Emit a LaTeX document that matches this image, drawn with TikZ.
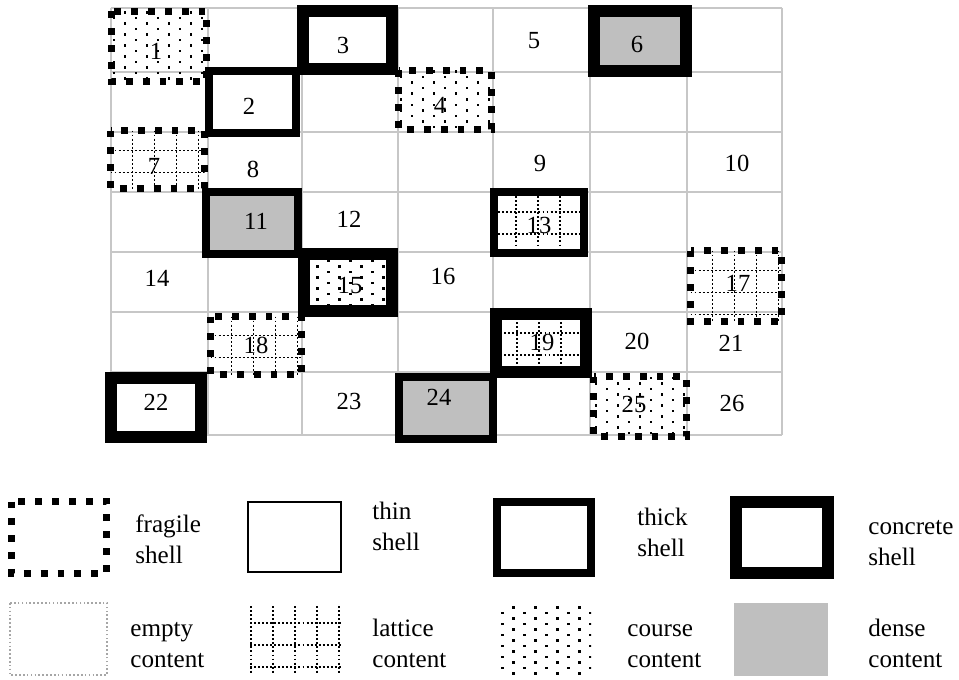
\documentclass[tikz,border=0pt]{standalone}
\usepackage{fontspec}
\setmainfont{Liberation Serif}

% staggered dots for course content: x1 y1 x2 y2
\newcommand{\coursedots}[4]{%
  \begin{scope}
    \clip (#1,#2) rectangle (#3,#4);
    \foreach \ci in {0,...,9}{
      \foreach \cj in {0,...,7}{
        \fill ({#1+1+11*\ci},{#2+5.5*(1-mod(\ci,2))+11*\cj}) rectangle ++(2.5,2.5);
      }
    }
  \end{scope}}

% dotted lattice for lattice content: x1 y1 x2 y2 xoff yoff
\newcommand{\latticegrid}[6]{%
  \begin{scope}
    \clip (#1,#2) rectangle (#3,#4);
    \foreach \lk in {0,...,4}{
      \draw[latticeline] ({#1+#5+22*\lk},#2) -- ({#1+#5+22*\lk},#4);
      \draw[latticeline] (#1,{#2+#6+22*\lk}) -- (#3,{#2+#6+22*\lk});
    }
  \end{scope}}

\begin{document}
\begin{tikzpicture}[
    x=0.02cm, y=-0.02cm,
    gridline/.style={draw=black!22, line width=0.8pt},
    fragile/.style={draw, line width=3.9pt, dash pattern=on 3.9pt off 5.7pt},
    thinshell/.style={draw, line width=1.2pt},
    thickshell/.style={draw, line width=4.5pt},
    concrete/.style={draw, line width=6.8pt},
    dense/.style={fill=black!25},
    latticeline/.style={line width=1.1pt, dash pattern=on 1.1pt off 1.2pt},
    emptyline/.style={draw=black!35, line width=0.9pt, dash pattern=on 0.9pt off 1.3pt},
    num/.style={inner sep=0pt, font=\fontsize{14}{16}\selectfont},
    legendtext/.style={anchor=base west, align=left, inner sep=0pt, font=\fontsize{14.3}{17.6}\selectfont}
]
\useasboundingbox (0,0) rectangle (959,679);

% table grid
\foreach \gx in {111,208,302,398,493,590,687,782}
  \draw[gridline] (\gx,8) -- (\gx,435);
\foreach \gy in {8,72,132,192,252,312,372,435}
  \draw[gridline] (111,\gy) -- (782,\gy);

% contents
\coursedots{111.5}{11.5}{206.5}{81.5}
\coursedots{398.5}{70.5}{491.5}{129.5}
\coursedots{304}{254}{392}{311}
\coursedots{593.5}{376.5}{686.5}{436.5}
\latticegrid{110.5}{130.5}{204.5}{188.5}{22}{20}
\latticegrid{494}{192}{584}{253}{22}{20}
\latticegrid{690.5}{250.5}{781.5}{321.5}{22}{20}
\latticegrid{210.5}{316.5}{301.5}{374.5}{21}{19}
\latticegrid{496}{314}{586}{372}{21}{19}

% shells
\draw[concrete] (303,11) rectangle (392,69);
\draw[concrete, dense] (594,11) rectangle (686,71);
\draw[concrete] (304,254) rectangle (392,311);
\draw[concrete] (496,314) rectangle (586,372);
\draw[concrete] (111,378) rectangle (201,437);
\draw[thickshell] (209,71) rectangle (296,133);
\draw[thickshell, dense] (206,192) rectangle (298,254);
\draw[thickshell] (494,192) rectangle (584,253);
\draw[thickshell, dense] (399,377) rectangle (493,439);
\draw[fragile] (111.5,11.5) rectangle (206.5,81.5);
\draw[fragile] (110.5,130.5) rectangle (204.5,188.5);
\draw[fragile] (398.5,70.5) rectangle (491.5,129.5);
\draw[fragile] (690.5,250.5) rectangle (781.5,321.5);
\draw[fragile] (210.5,316.5) rectangle (301.5,374.5);
\draw[fragile] (593.5,376.5) rectangle (686.5,436.5);

% cell numbers
\node[num] (n1)  at (156,51)  {1};
\node[num] (n2)  at (249,106) {2};
\node[num] (n3)  at (343,45)  {3};
\node[num] (n4)  at (440,105) {4};
\node[num] (n5)  at (534,41)  {5};
\node[num] (n6)  at (637,44)  {6};
\node[num] (n7)  at (154,166) {7};
\node[num] (n8)  at (253,169) {8};
\node[num] (n9)  at (540,163) {9};
\node[num] (n10) at (737,163) {10};
\node[num] (n11) at (256,221) {11};
\node[num] (n12) at (349,219) {12};
\node[num] (n13) at (539,225) {13};
\node[num] (n14) at (157,278) {14};
\node[num] (n15) at (350,285) {15};
\node[num] (n16) at (443,276) {16};
\node[num] (n17) at (738,283) {17};
\node[num] (n18) at (256,345) {18};
\node[num] (n19) at (542,342) {19};
\node[num] (n20) at (637,341) {20};
\node[num] (n21) at (731,343) {21};
\node[num] (n22) at (156,402) {22};
\node[num] (n23) at (349,401) {23};
\node[num] (n24) at (439,397) {24};
\node[num] (n25) at (634,404) {25};
\node[num] (n26) at (732,403) {26};

% legend, shells
\draw[fragile] (11.5,501.5) rectangle (106.5,573.5);
\draw[thinshell] (248,502) rectangle (341,572);
\draw[thickshell] (497,502) rectangle (591,573);
\draw[concrete] (736,502) rectangle (828,573);
\node[legendtext] (lfragile)  at (135,563) {fragile\\shell};
\node[legendtext] (lthin)     at (372,550) {thin\\shell};
\node[legendtext] (lthick)    at (637,556) {thick\\shell};
\node[legendtext] (lconcrete) at (868,565) {concrete\\shell};

% legend, contents
\draw[emptyline] (10,603) rectangle (107,675);
\latticegrid{250}{606}{341}{673}{1}{17}
\coursedots{500}{606}{591}{674}
\fill[dense] (734,603) rectangle (828,676);
\node[legendtext] (lempty)   at (130,667) {empty\\content};
\node[legendtext] (llattice) at (372,667) {lattice\\content};
\node[legendtext] (lcourse)  at (627,667) {course\\content};
\node[legendtext] (ldense)   at (868,667) {dense\\content};
\end{tikzpicture}
\end{document}
